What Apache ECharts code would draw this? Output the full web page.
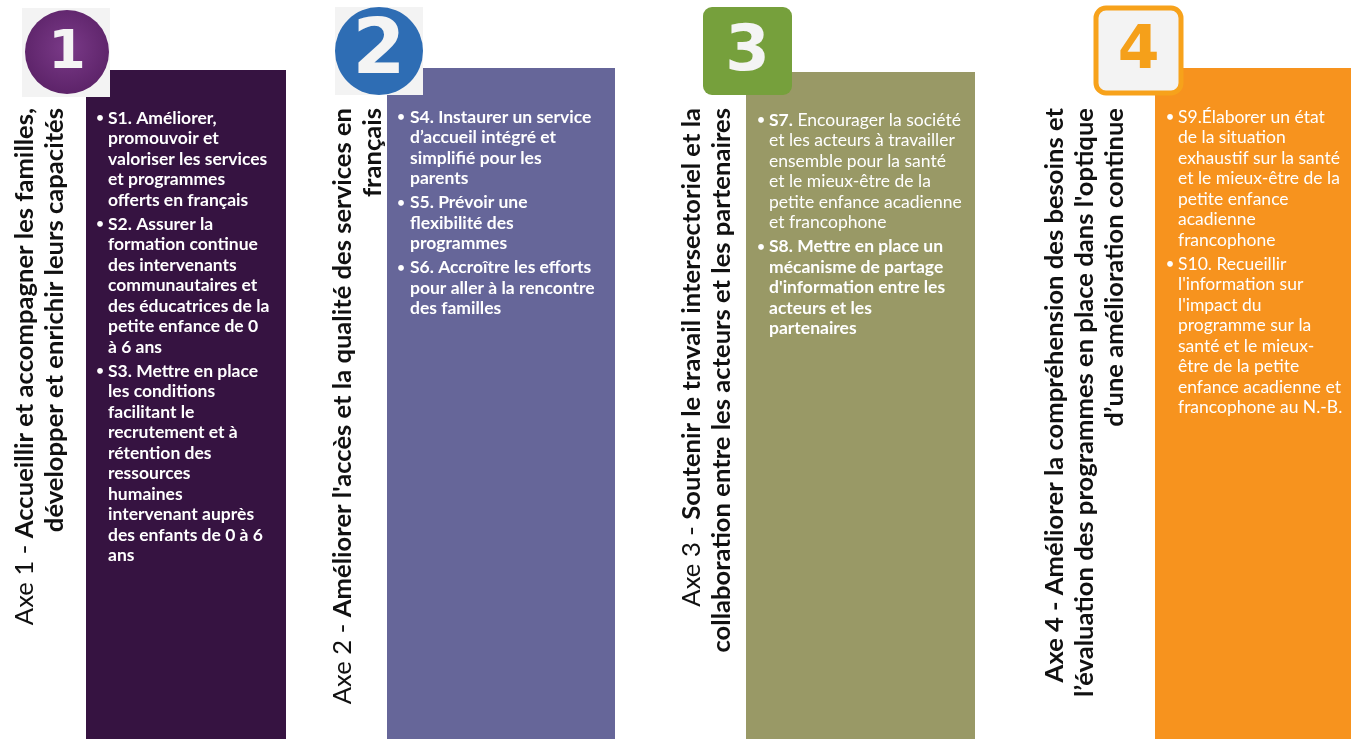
<!DOCTYPE html>
<html>
<head>
<meta charset="utf-8">
<script src="https://cdn.jsdelivr.net/npm/echarts@6/dist/echarts.min.js"></script>
<style>
html,body{margin:0;padding:0;background:#fff;}
#main{width:1351px;height:739px;}
</style>
</head>
<body>
<div id="main"></div>
<script>
// contenu : 4 axes, leurs titres et strategies
var badgeNumbers = ['1', '2', '3', '4'];

// chaque ligne : [partie normale, partie grasse]
var titleLines = [
    [['Axe 1 - ', 'Accueillir et accompagner les familles,'], ['', 'développer et enrichir leurs capacités']],
    [['Axe 2 - ', "Améliorer l'accès et la qualité des services en"], ['', 'français']],
    [['Axe 3 - ', 'Soutenir le travail intersectoriel et la'], ['', 'collaboration entre les acteurs et les partenaires']],
    [['', 'Axe 4 - Améliorer la compréhension des besoins et'], ['', "l’évaluation des programmes en place dans l'optique"], ['', 'd’une amélioration continue']]
];

var strategiesAxe1 = [
    ['S1. Améliorer,', 'promouvoir et', 'valoriser les services', 'et programmes', 'offerts en français'],
    ['S2. Assurer la', 'formation continue', 'des intervenants', 'communautaires et', 'des éducatrices de la', 'petite enfance de 0', 'à 6 ans'],
    ['S3. Mettre en place', 'les conditions', 'facilitant le', 'recrutement et à', 'rétention des', 'ressources', 'humaines', 'intervenant auprès', 'des enfants de 0 à 6', 'ans']
];
var strategiesAxe2 = [
    ['S4. Instaurer un service', 'd’accueil intégré et', 'simplifié pour les', 'parents'],
    ['S5. Prévoir une', 'flexibilité des', 'programmes'],
    ['S6. Accroître les efforts', 'pour aller à la rencontre', 'des familles']
];
var strategiesAxe3 = [
    ['S7. Encourager la société', 'et les acteurs à travailler', 'ensemble pour la santé', 'et le mieux-être de la', 'petite enfance acadienne', 'et francophone'],
    ['S8. Mettre en place un', 'mécanisme de partage', "d'information entre les", 'acteurs et les', 'partenaires']
];
var strategiesAxe4 = [
    ['S9.Élaborer un état', 'de la situation', 'exhaustif sur la santé', 'et le mieux-être de la', 'petite enfance', 'acadienne', 'francophone'],
    ['S10. Recueillir', "l'information sur", "l'impact du", 'programme sur la', 'santé et le mieux-', 'être de la petite', 'enfance acadienne et', 'francophone au N.-B.']
];
var strategies = [strategiesAxe1, strategiesAxe2, strategiesAxe3, strategiesAxe4];

// style : h = code en gras seulement, b = tout en gras, r = normal
var strategyWeights = [['b', 'b', 'b'], ['b', 'b', 'b'], ['h', 'b'], ['r', 'r']];

// mise en page
var layout = [
    { left: 86, right: 286, top: 70, fill: '#361341', bg: [22, 8, 88, 89], shape: 'circle', cx: 67, cy: 52, r: 42,
      badgeFill: { type: 'radial', x: 0.5, y: 0.45, r: 0.6, colorStops: [{ offset: 0, color: '#7a3a88' }, { offset: 1, color: '#5a2166' }] },
      digitSize: 54, digitColor: '#f4f4f4', titleX: 40, bulletX: 100, textX: 108, textY: 118 },
    { left: 387, right: 615, top: 68, fill: '#666699', bg: [335, 7, 88, 88], shape: 'circle', cx: 379, cy: 51, r: 44,
      badgeFill: '#2e6db4', digitSize: 76, digitColor: '#f4f4f4', titleX: 358, bulletX: 401, textX: 410, textY: 117 },
    { left: 746, right: 975, top: 72, fill: '#999966', bg: null, shape: 'rect', box: [703, 7, 89, 88], radius: 9,
      badgeFill: '#76a03c', digitSize: 64, digitColor: '#f4f4f4', titleX: 707, bulletX: 761, textX: 769, textY: 120 },
    { left: 1155, right: 1351, top: 68, fill: '#f7931e', bg: null, shape: 'rect', box: [1096, 8, 85, 85], radius: 10,
      badgeFill: '#f3f3f3', badgeStroke: '#f7a21b', digitSize: 60, digitColor: '#f5a01a', titleX: 1085, bulletX: 1170, textX: 1178, textY: 117 }
];

var LINE_H = 20.5;
var PARA_GAP = 3.5;
var BODY_FONT = 'Lato';
var BODY_SIZE = 17.5;
var TITLE_SIZE = 25.6;

function titleRich(lines) {
    return lines.map(function (l) {
        return (l[0] ? '{r|' + l[0] + '}' : '') + '{b|' + l[1] + '}';
    }).join('\n');
}

function strategyRich(lines, weight) {
    return lines.map(function (line, k) {
        if (weight === 'b') return '{b|' + line + '}';
        if (weight === 'h' && k === 0) {
            var m = line.match(/^(S\d+\.)(.*)$/);
            return '{b|' + m[1] + '}{r|' + m[2] + '}';
        }
        return '{r|' + line + '}';
    }).join('\n');
}

var myChart = echarts.init(document.getElementById('main'));

var option = {
    backgroundColor: '#ffffff',
    animation: false,
    grid: { left: 0, right: 0, top: 0, bottom: 0 },
    xAxis: { type: 'value', min: 0, max: 1351, show: false },
    yAxis: { type: 'value', min: 0, max: 739, inverse: true, show: false },
    series: [{
        type: 'custom',
        coordinateSystem: 'cartesian2d',
        clip: false,
        silent: true,
        data: badgeNumbers.map(function (n, i) { return [layout[i].left, layout[i].top]; }),
        renderItem: function (params, api) {
            var i = params.dataIndex;
            var L = layout[i];
            var tl = api.coord([api.value(0), api.value(1)]);
            var br = api.coord([L.right, 739]);
            var children = [];

            // colonne
            children.push({
                type: 'rect',
                shape: { x: tl[0], y: tl[1], width: br[0] - tl[0], height: br[1] - tl[1] },
                style: { fill: L.fill }
            });

            // pastille
            if (L.bg) {
                var b0 = api.coord([L.bg[0], L.bg[1]]);
                children.push({ type: 'rect', shape: { x: b0[0], y: b0[1], width: L.bg[2], height: L.bg[3] }, style: { fill: '#f3f3f3' } });
            }
            var dc;
            if (L.shape === 'circle') {
                dc = api.coord([L.cx, L.cy]);
                children.push({ type: 'circle', shape: { cx: dc[0], cy: dc[1], r: L.r }, style: { fill: L.badgeFill } });
            } else {
                var q = api.coord([L.box[0], L.box[1]]);
                children.push({
                    type: 'rect',
                    shape: { x: q[0], y: q[1], width: L.box[2], height: L.box[3], r: L.radius },
                    style: { fill: L.badgeFill, stroke: L.badgeStroke || null, lineWidth: L.badgeStroke ? 5 : 0 }
                });
                dc = [q[0] + L.box[2] / 2, q[1] + L.box[3] / 2];
            }
            children.push({
                type: 'text',
                x: dc[0], y: dc[1] + 2,
                style: {
                    text: badgeNumbers[i], fill: L.digitColor,
                    font: 'bold ' + L.digitSize + 'px "DejaVu Sans"',
                    align: 'center', verticalAlign: 'middle'
                }
            });

            // titre vertical
            var tp = api.coord([L.titleX, 108]);
            children.push({
                type: 'text',
                x: tp[0], y: tp[1],
                rotation: Math.PI / 2,
                style: {
                    text: titleRich(titleLines[i]),
                    align: 'right', verticalAlign: 'middle',
                    rich: {
                        r: { fontFamily: BODY_FONT, fontSize: TITLE_SIZE, fontWeight: 'normal', fill: '#111', lineHeight: 30 },
                        b: { fontFamily: BODY_FONT, fontSize: TITLE_SIZE, fontWeight: 'bold', fill: '#111', lineHeight: 30 }
                    }
                }
            });

            // strategies
            var lineCount = 0;
            strategies[i].forEach(function (lines, k) {
                var yc = L.textY + lineCount * LINE_H + k * PARA_GAP;
                var tpos = api.coord([L.textX, yc - LINE_H / 2]);
                var bpos = api.coord([L.bulletX, yc]);
                children.push({
                    type: 'text', x: bpos[0], y: bpos[1],
                    style: { text: '•', fill: '#fff', font: 'bold 13px ' + BODY_FONT, align: 'center', verticalAlign: 'middle' }
                });
                children.push({
                    type: 'text', x: tpos[0], y: tpos[1],
                    style: {
                        text: strategyRich(lines, strategyWeights[i][k]),
                        align: 'left', verticalAlign: 'top',
                        rich: {
                            r: { fontFamily: BODY_FONT, fontSize: BODY_SIZE, fontWeight: 'normal', fill: '#ffffff', lineHeight: LINE_H },
                            b: { fontFamily: BODY_FONT, fontSize: BODY_SIZE, fontWeight: 'bold', fill: '#ffffff', lineHeight: LINE_H }
                        }
                    }
                });
                lineCount += lines.length;
            });

            return { type: 'group', children: children };
        }
    }]
};

myChart.setOption(option);
</script>
</body>
</html>
